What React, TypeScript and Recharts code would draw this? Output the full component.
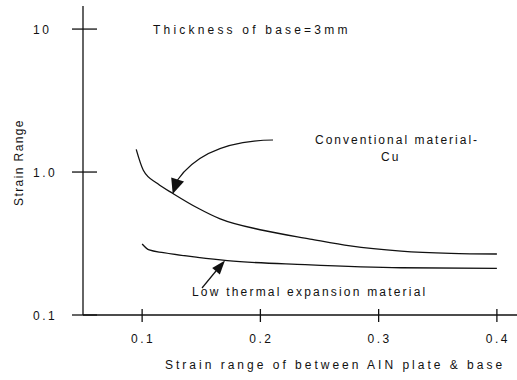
import React from "react";
import { LineChart, Line, XAxis, YAxis } from "recharts";

// strain range of conventional material (Cu)
const convX = [0.095, 0.101, 0.113, 0.127, 0.147, 0.166, 0.203, 0.242, 0.276, 0.319, 0.361, 0.4];
const convY = [1.44, 1.03, 0.83, 0.7, 0.56, 0.47, 0.39, 0.34, 0.304, 0.28, 0.27, 0.267];

// low thermal expansion material
const lowX = [0.1, 0.106, 0.118, 0.147, 0.172, 0.238, 0.319, 0.4];
const lowY = [0.314, 0.285, 0.273, 0.253, 0.24, 0.225, 0.214, 0.212];

const xTicks = [0.1, 0.2, 0.3, 0.4];
const yTicks = [0.1, 1, 10];
const yTickLabels = ["0.1", "1.0", "10"];

const convData = convX.map((x, i) => ({ x, y: convY[i] }));
const lowData = lowX.map((x, i) => ({ x, y: lowY[i] }));

const FONT = "'Liberation Sans', Arial, sans-serif";
const INK = "#111";

function XTick(props: any) {
  const { x, y, payload } = props;
  return (
    <g>
      <line x1={x} x2={x} y1={y - 6} y2={y + 7} stroke={INK} strokeWidth={1.3} />
      <text x={x + 1} y={y + 28} textAnchor="middle" fontFamily={FONT} fontSize={12}
        letterSpacing={2.5} fill={INK}>
        {payload.value.toFixed(1)}
      </text>
    </g>
  );
}

function YTick(props: any) {
  const { x, y, payload } = props;
  const idx = yTicks.indexOf(payload.value);
  return (
    <g>
      <line x1={x - 11} x2={x + 14} y1={y} y2={y} stroke={INK} strokeWidth={1.3} />
      <text x={33} y={y + 4.5} textAnchor="start" fontFamily={FONT} fontSize={12}
        letterSpacing={2.5} fill={INK}>
        {idx >= 0 ? yTickLabels[idx] : ""}
      </text>
    </g>
  );
}

export default function App() {
  const txt = { fontFamily: FONT, fontSize: 12, fill: INK };
  return (
    <div style={{ position: "relative", width: 517, height: 380, background: "#fff" }}>
      <style>{`body{margin:0}`}</style>
      <LineChart width={517} height={380} margin={{ top: 6, right: 0, bottom: 0, left: 0 }}>
        <XAxis
          type="number" dataKey="x" domain={[0.05, 0.417]} ticks={xTicks}
          allowDataOverflow height={65} tickSize={0} tickMargin={0}
          axisLine={{ stroke: INK, strokeWidth: 1.3 }} tickLine={false} tick={<XTick />}
        />
        <XAxis
          xAxisId="top" orientation="top" type="number" domain={[0.05, 0.417]}
          height={0} tick={false} tickLine={false}
          axisLine={{ stroke: INK, strokeWidth: 1.3 }}
        />
        <YAxis
          type="number" dataKey="y" scale="log" domain={[0.1, 14.5]} ticks={yTicks}
          allowDataOverflow width={83} tickSize={0} tickMargin={0}
          axisLine={{ stroke: INK, strokeWidth: 1.3 }} tickLine={false} tick={<YTick />}
        />
        <Line data={convData} dataKey="y" type="monotone" stroke={INK} strokeWidth={1.3}
          dot={false} isAnimationActive={false} />
        <Line data={lowData} dataKey="y" type="monotone" stroke={INK} strokeWidth={1.3}
          dot={false} isAnimationActive={false} />
      </LineChart>
      <svg width={517} height={380} style={{ position: "absolute", left: 0, top: 0, pointerEvents: "none" }}>
        {/* annotations */}
        <text x={153} y={34} letterSpacing={3.2} {...txt}>Thickness of base=3mm</text>
        <text x={315} y={144} letterSpacing={2} {...txt}>Conventional material-</text>
        <text x={381} y={161} letterSpacing={2} {...txt}>Cu</text>
        <text x={192} y={296} letterSpacing={2.2} {...txt}>Low thermal expansion material</text>
        <path d="M273,140 Q205,141 177.5,180" fill="none" stroke={INK} strokeWidth={1.2} />
        <polygon points="172.7,194 171.2,177.6 184,181.6" fill={INK} />
        <line x1={202} y1={288} x2={216} y2={271} stroke={INK} strokeWidth={1.2} />
        <polygon points="225,260.5 219.8,274.5 212.2,268.1" fill={INK} />
        {/* axis titles */}
        <text x={165} y={368.5} letterSpacing={3} {...txt}>Strain range of between AIN plate &amp; base</text>
        <text transform="translate(22.5,162.5) rotate(-90)" textAnchor="middle" letterSpacing={1.4} {...txt}>
          Strain Range
        </text>
      </svg>
    </div>
  );
}
